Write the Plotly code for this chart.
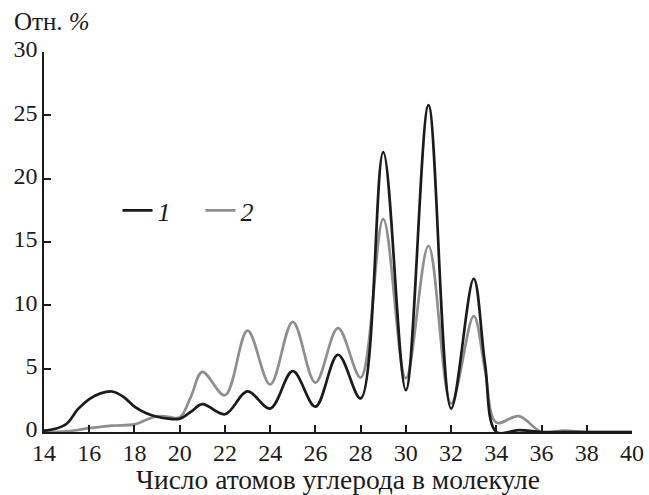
import plotly.graph_objects as go

# Data
x1 = [14, 14.5, 15, 15.5, 16, 16.5, 17, 17.5, 18, 18.5, 19, 19.5, 20, 20.5, 21,
      22, 23, 24, 25, 26, 27, 28, 29, 30, 31, 32, 33, 33.5, 34, 35, 36, 37, 38, 39, 40]
y1 = [0.1, 0.25, 0.65, 1.8, 2.6, 3.05, 3.2, 2.8, 2.0, 1.5, 1.2, 1.05, 1.05, 1.6, 2.2,
      1.4, 3.2, 1.85, 4.8, 2.0, 6.1, 2.65, 22.1, 3.3, 25.8, 1.85, 12.1, 5.4, 0.0, 0.15, 0.0, 0.0, 0.0, 0.0, 0.0]

x2 = [14, 15, 16, 17, 18, 18.5, 19, 19.5, 20, 20.5, 21,
      22, 23, 24, 25, 26, 27, 28, 29, 30, 31, 32, 33, 33.5, 34, 35, 36, 37, 38, 39, 40]
y2 = [0.0, 0.05, 0.3, 0.5, 0.6, 0.95, 1.25, 1.2, 1.15, 2.8, 4.75,
      2.9, 8.0, 3.75, 8.7, 3.9, 8.2, 4.3, 16.8, 4.25, 14.7, 2.25, 9.15, 4.9, 0.75, 1.25, 0.0, 0.12, 0.0, 0.0, 0.0]

x_ticks = [14, 16, 18, 20, 22, 24, 26, 28, 30, 32, 34, 36, 38, 40]
y_ticks = [0, 5, 10, 15, 20, 25, 30]

black = "#1c1a1b"
grey = "#8f8f8f"
font_family = "Liberation Serif"

fig = go.Figure()
fig.add_trace(go.Scatter(x=x2, y=y2, mode="lines", name="<i>2</i>",
                         line=dict(color=grey, width=2.7, shape="spline", smoothing=1.0)))
fig.add_trace(go.Scatter(x=x1, y=y1, mode="lines", name="<i>1</i>",
                         line=dict(color=black, width=2.7, shape="spline", smoothing=1.0)))

fig.update_layout(
    width=649, height=495,
    margin=dict(l=44, r=17, t=52, b=63, autoexpand=False),
    paper_bgcolor="white", plot_bgcolor="white",
    font=dict(family=font_family, size=24, color=black),
    showlegend=True,
    legend=dict(orientation="h", x=0.125, y=0.583, xanchor="left", yanchor="middle",
                font=dict(family=font_family, size=26, color=black),
                bgcolor="rgba(0,0,0,0)", traceorder="reversed",
                itemwidth=30, entrywidth=38, tracegroupgap=0),
    xaxis=dict(range=[14, 40], tickvals=x_ticks, ticktext=[str(v) for v in x_ticks],
               showgrid=False, zeroline=False, showline=True, linecolor=black, linewidth=1.5,
               ticks="inside", ticklen=7, tickwidth=1.5, tickcolor=black, automargin=False,
               ticklabelstandoff=-2,
               tickfont=dict(family=font_family, size=24, color=black),
               title=dict(text="Число атомов углерода в молекуле",
                          font=dict(family=font_family, size=27.5, color=black), standoff=3)),
    yaxis=dict(range=[0, 30], tickvals=y_ticks, ticktext=[str(v) for v in y_ticks],
               showgrid=False, zeroline=False, showline=True, linecolor=black, linewidth=1.5,
               ticks="inside", ticklen=7, tickwidth=1.5, tickcolor=black, automargin=False,
               ticklabelshift=-3,
               tickfont=dict(family=font_family, size=24, color=black)),
)
fig.add_annotation(text="Отн. <i>%</i>", xref="paper", yref="paper", x=-0.055, y=1.08,
                   xanchor="left", yanchor="middle", showarrow=False,
                   font=dict(family=font_family, size=25, color=black))

fig.write_html("out.html")
